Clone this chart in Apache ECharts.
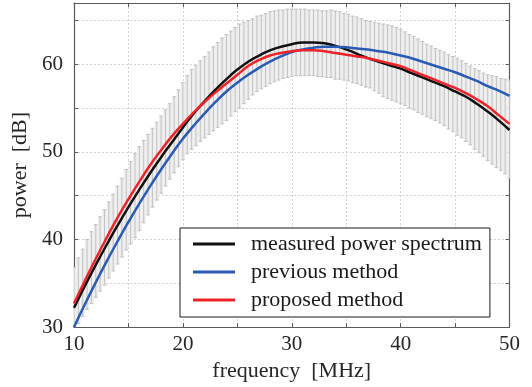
<!DOCTYPE html>
<html>
<head>
<meta charset="utf-8">
<script src="https://cdn.jsdelivr.net/npm/echarts@6/dist/echarts.min.js"></script>
<style>
html,body{margin:0;padding:0;background:#fff;}
#chart{width:532px;height:387px;}
</style>
</head>
<body>
<div id="chart"></div>
<script>
// ---- data ----
const lineFreq = [10,11,12,13,14,15,16,17,18,19,20,21,22,23,24,25,26,27,28,29,30,31,32,33,34,35,36,37,38,39,40,41,42,43,44,45,46,47,48,49,50];
const measured = [32.2,34.7,37.1,39.4,41.6,43.7,45.7,47.6,49.4,51.1,52.8,54.4,55.8,57.1,58.3,59.4,60.3,61.0,61.6,62.0,62.3,62.5,62.5,62.4,62.1,61.7,61.2,60.7,60.3,59.9,59.5,59.0,58.5,58.0,57.5,56.9,56.3,55.5,54.6,53.6,52.5];
const previous = [30.0,32.6,35.1,37.5,39.8,42.0,44.1,46.1,48.0,49.8,51.5,53.0,54.4,55.7,56.9,57.9,58.8,59.6,60.3,60.9,61.4,61.7,61.9,62.0,62.0,61.95,61.8,61.7,61.5,61.3,61.0,60.7,60.3,59.9,59.5,59.1,58.6,58.1,57.5,57.0,56.4];
const proposed = [32.7,35.3,37.8,40.2,42.5,44.6,46.6,48.5,50.2,51.8,53.2,54.5,55.7,56.8,57.8,58.8,59.8,60.5,61.0,61.3,61.5,61.6,61.6,61.5,61.3,61.1,60.9,60.7,60.4,60.1,59.8,59.3,58.8,58.3,57.8,57.3,56.7,56.0,55.2,54.2,53.2];

const barFreq = [10,10.4,10.8,11.2,11.6,12,12.4,12.8,13.2,13.6,14,14.4,14.8,15.2,15.6,16,16.4,16.8,17.2,17.6,18,18.4,18.8,19.2,19.6,20,20.4,20.8,21.2,21.6,22,22.4,22.8,23.2,23.6,24,24.4,24.8,25.2,25.6,26,26.4,26.8,27.2,27.6,28,28.4,28.8,29.2,29.6,30,30.4,30.8,31.2,31.6,32,32.4,32.8,33.2,33.6,34,34.4,34.8,35.2,35.6,36,36.4,36.8,37.2,37.6,38,38.4,38.8,39.2,39.6,40,40.4,40.8,41.2,41.6,42,42.4,42.8,43.2,43.6,44,44.4,44.8,45.2,45.6,46,46.4,46.8,47.2,47.6,48,48.4,48.8,49.2,49.6,50];
const barHigh = [36.8,37.9,38.9,40.0,40.9,41.7,42.6,43.4,44.3,45.2,46.1,47.0,48.0,48.9,49.8,50.6,51.3,52.0,52.7,53.4,54.1,54.8,55.5,56.3,57.1,57.9,58.7,59.4,59.9,60.4,60.9,61.4,62.0,62.5,63.0,63.4,63.8,64.2,64.6,64.8,65.0,65.2,65.5,65.6,65.8,66.0,66.1,66.2,66.2,66.3,66.3,66.3,66.3,66.3,66.2,66.2,66.2,66.1,66.1,66.2,66.1,66.0,65.8,65.7,65.5,65.4,65.2,65.0,64.9,64.8,64.7,64.6,64.5,64.4,64.2,64.0,63.7,63.4,63.2,62.9,62.6,62.3,62.1,61.8,61.6,61.4,61.1,60.9,60.7,60.4,60.1,59.8,59.5,59.3,59.0,58.8,58.7,58.6,58.4,58.3,58.2];
const barLow = [29.6,30.4,31.2,32.0,32.7,33.4,34.1,34.8,35.6,36.4,37.2,38.0,38.8,39.5,40.2,41.0,41.9,42.8,43.7,44.5,45.3,46.1,46.9,47.6,48.3,49.1,49.8,50.3,50.7,51.2,51.6,52.0,52.4,52.8,53.2,53.6,54.1,54.6,55.0,55.5,56.0,56.5,56.9,57.2,57.5,57.8,58.0,58.2,58.4,58.5,58.6,58.7,58.7,58.7,58.7,58.7,58.6,58.6,58.5,58.5,58.3,58.3,58.2,58.1,57.9,57.8,57.6,57.4,57.3,57.0,56.7,56.3,56.1,55.9,55.7,55.5,55.3,55.0,54.8,54.5,54.3,54.0,53.8,53.6,53.3,53.0,52.6,52.3,51.9,51.6,51.2,50.8,50.3,49.9,49.5,49.0,48.6,48.2,47.9,47.5,47.0];

const xTicksLabeled = [10,20,30,40,50];
const yTicksLabeled = [30,40,50,60];
const seriesNames = ['measured power spectrum','previous method','proposed method'];

// ---- chart ----
const FONT = 'Liberation Serif';
const TXT = '#262626';
const chart = echarts.init(document.getElementById('chart'), null, {renderer:'canvas'});

function pairs(xs, ys){ return xs.map((x,i)=>[x, ys[i]]); }

const axisLineStyle = {color:'#5a5a5a', width:1.2};
const option = {
  animation:false,
  backgroundColor:'#ffffff',
  grid:{left:74, right:22.5, top:3, bottom:55, containLabel:false},
  legend:{
    orient:'vertical', left:180, top:228,
    padding:[5,8,6,13], itemGap:6,
    itemWidth:42, itemHeight:3, icon:'rect',
    backgroundColor:'#ffffff', borderColor:'#1a1a1a', borderWidth:1,
    textStyle:{fontFamily:FONT, fontSize:22, color:'#1a1a1a', lineHeight:22, padding:[0,0,0,11]},
    data:seriesNames
  },
  xAxis:[{
    type:'value', min:10, max:50, interval:5, position:'bottom',
    axisLine:{show:true, onZero:false, lineStyle:axisLineStyle},
    axisTick:{show:true, inside:true, length:4, lineStyle:{color:'#5a5a5a'}},
    axisLabel:{fontFamily:FONT, fontSize:21, color:TXT, margin:7,
      formatter:v=>xTicksLabeled.includes(v)?String(v):''},
    splitLine:{show:true, lineStyle:{color:'#d2d2d2', type:[2,2], width:1}},
    name:'frequency  [MHz]', nameLocation:'middle', nameGap:28,
    nameTextStyle:{fontFamily:FONT, fontSize:22, color:TXT}
  },{
    type:'value', min:10, max:50, interval:5, position:'top',
    axisLine:{show:true, onZero:false, lineStyle:axisLineStyle},
    axisTick:{show:true, inside:true, length:4, lineStyle:{color:'#5a5a5a'}},
    axisLabel:{show:false}, splitLine:{show:false}
  }],
  yAxis:[{
    type:'value', min:30, max:67, interval:5, position:'left',
    axisLine:{show:true, onZero:false, lineStyle:axisLineStyle},
    axisTick:{show:true, inside:true, length:4, lineStyle:{color:'#5a5a5a'}},
    axisLabel:{fontFamily:FONT, fontSize:21, color:TXT, margin:11,
      formatter:v=>yTicksLabeled.includes(v)?String(v):''},
    splitLine:{show:true, lineStyle:{color:'#d2d2d2', type:[2,2], width:1}},
    name:'power  [dB]', nameLocation:'middle', nameGap:33, nameRotate:90,
    nameTextStyle:{fontFamily:FONT, fontSize:22, color:TXT}
  },{
    type:'value', min:30, max:67, interval:5, position:'right',
    axisLine:{show:true, onZero:false, lineStyle:axisLineStyle},
    axisTick:{show:true, inside:true, length:4, lineStyle:{color:'#5a5a5a'}},
    axisLabel:{show:false}, splitLine:{show:false}
  }],
  series:[
    {
      type:'custom', name:'errorbars', clip:true, silent:true, z:1,
      data: barFreq.map((f,i)=>[f, barLow[i], barHigh[i]]),
      renderItem:function(params, api){
        const x = api.value(0);
        const lo = api.coord([x, api.value(1)]);
        const hi = api.coord([x, api.value(2)]);
        const w = api.size([0.4, 0])[0];
        const st = {stroke:'#c2c2c2', lineWidth:1};
        return {type:'group', children:[
          {type:'rect', shape:{x:lo[0]-w/2, y:hi[1], width:w, height:lo[1]-hi[1]}, style:{fill:'#ededed'}},
          {type:'line', shape:{x1:lo[0], y1:lo[1], x2:hi[0], y2:hi[1]}, style:st},
          {type:'line', shape:{x1:hi[0]-1.8, y1:hi[1], x2:hi[0]+1.8, y2:hi[1]}, style:st},
          {type:'line', shape:{x1:lo[0]-1.8, y1:lo[1], x2:lo[0]+1.8, y2:lo[1]}, style:st}
        ]};
      }
    },
    {type:'line', name:seriesNames[0], data:pairs(lineFreq, measured), smooth:true, showSymbol:false, z:3,
      color:'#111111', lineStyle:{color:'#111111', width:2.5}},
    {type:'line', name:seriesNames[1], data:pairs(lineFreq, previous), smooth:true, showSymbol:false, z:3,
      color:'#2a5bb2', lineStyle:{color:'#2a5bb2', width:2.5}},
    {type:'line', name:seriesNames[2], data:pairs(lineFreq, proposed), smooth:true, showSymbol:false, z:4,
      color:'#ee2229', lineStyle:{color:'#ee2229', width:2.5}}
  ]
};
chart.setOption(option);
</script>
</body>
</html>
